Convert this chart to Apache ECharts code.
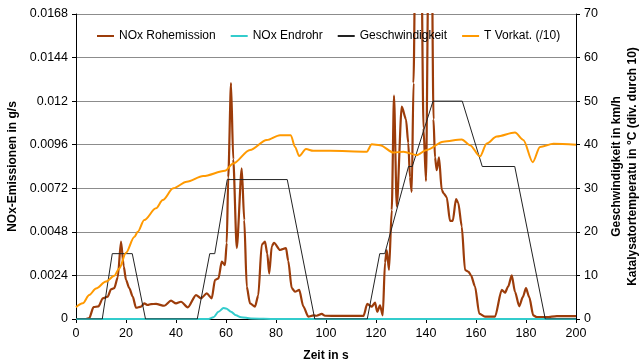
<!DOCTYPE html>
<html>
<head>
<meta charset="utf-8">
<script src="https://cdn.jsdelivr.net/npm/echarts@6/dist/echarts.min.js"></script>
<style>
  html, body { margin: 0; padding: 0; background: #fff; }
  #chart { width: 642px; height: 363px; }
</style>
</head>
<body>
<div id="chart"></div>
<script>
// Time axis (s)
const timeTicks = [0, 20, 40, 60, 80, 100, 120, 140, 160, 180, 200];
// Left axis tick labels (g/s)
const leftTicks = ['0', '0.0024', '0.0048', '0.0072', '0.0096', '0.012', '0.0144', '0.0168'];
// Right axis tick labels (km/h, °C/10)
const rightTicks = ['0', '10', '20', '30', '40', '50', '60', '70'];

// NOx Rohemission (g/s)
const rohTime = [0, 4, 5.3, 7, 9, 10.7, 12.7, 14, 15.3, 16.7, 18, 19.1, 20, 21.3, 22.7, 24, 26, 27.3, 28.7, 30, 32, 35.3, 38, 40, 42, 44.7, 48, 50, 52.3, 54.3, 55.6, 57, 58.3, 59.6, 60.3, 60.9, 62, 62.9, 64.3, 66.3, 67.3, 68.3, 69.6, 71.6, 72.9, 74.3, 75.6, 76.5, 77.3, 78.3, 79.2, 81.6, 84, 84.9, 86.3, 87.6, 89.3, 90.9, 92.9, 95, 96.3, 98.3, 99.6, 105, 115, 116.5, 118.3, 119.6, 120.5, 121.6, 122.7, 123.6, 124.3, 125.2, 126.3, 127.2, 128.3, 130.3, 132, 132.9, 133.6, 134.3, 135, 136, 137, 138, 139, 140, 141, 142, 143, 143.6, 144.3, 145.2, 146.3, 147.2, 148.3, 149.6, 150.7, 152, 152.9, 154.3, 155.6, 157, 158, 159.6, 161.3, 163.6, 167.6, 170.3, 171.6, 172.9, 174.3, 175.6, 177.3, 178.7, 180, 181.3, 182.9, 184.3, 188.3, 192.3, 200];
const rohValues = [0, 0, 0.00005, 0.00065, 0.0007, 0.00114, 0.00123, 0.00164, 0.0017, 0.0023, 0.00426, 0.0029, 0.00215, 0.0017, 0.00123, 0.00062, 0.00068, 0.00086, 0.00077, 0.00082, 0.00083, 0.00073, 0.00101, 0.00086, 0.00095, 0.00064, 0.00132, 0.00114, 0.00141, 0.00114, 0.00215, 0.00224, 0.00316, 0.00297, 0.0042, 0.0078, 0.0130, 0.0088, 0.0039, 0.0083, 0.00545, 0.00178, 0.00086, 0.00068, 0.0013, 0.0041, 0.00426, 0.0036, 0.0025, 0.0040, 0.0042, 0.0038, 0.0039, 0.0032, 0.0017, 0.0015, 0.0016, 0.0007, 0.00013, 0.0002, 0.00018, 0.00028, 0.00018, 0.00017, 0.00017, 0.00083, 0.00068, 0.0009, 0.0004, 0.00075, 0.0002, 0.0031, 0.0038, 0.0027, 0.006, 0.0123, 0.0062, 0.0117, 0.0110, 0.0097, 0.0078, 0.0070, 0.0130, 0.0240, 0.0260, 0.0220, 0.0105, 0.0076, 0.0200, 0.0260, 0.0110, 0.0089, 0.0082, 0.0089, 0.0071, 0.0069, 0.0067, 0.0054, 0.0054, 0.0066, 0.0064, 0.0051, 0.0027, 0.0026, 0.0024, 0.0018, 0.0003, 0.00013, 0.00013, 0.0016, 0.00145, 0.0018, 0.0024, 0.0015, 0.0007, 0.0012, 0.0017, 0.0012, 0.0002, 0.0001, 0.0001, 0.00016, 0.00016];

// NOx Endrohr (g/s)
const endTime = [0, 53, 55, 57, 59, 60, 62, 64, 66, 70, 80, 200];
const endValues = [0, 0, 0.0001, 0.0004, 0.0006, 0.00058, 0.0004, 0.0002, 0.0001, 0.00003, 0, 0];

// Geschwindigkeit (km/h)
const speedTime = [0, 10.5, 14.5, 22.5, 27.8, 48.5, 53.5, 55.5, 60.5, 84.5, 95.5, 116.5, 121.5, 123.5, 133, 134.5, 142.8, 154.5, 162.5, 175.5, 187.7, 200];
const speedValues = [0, 0, 15, 15, 0, 0, 15, 15, 32, 32, 0, 0, 15, 15, 35, 35, 50, 50, 35, 35, 0, 0];

// T Vorkat. (°C / 10)
const tempTime = [0, 2.7, 5.3, 8, 12, 15.3, 17.3, 20, 23.3, 24.7, 27.3, 32, 34.7, 38.9, 44.3, 50.9, 59.6, 62.9, 69.6, 76.3, 81.6, 85.9, 87.6, 89.3, 92, 94.9, 101.6, 116.3, 118.3, 121.6, 127, 131, 136.3, 140.3, 146.9, 154.3, 157.6, 161.6, 164.3, 168.3, 175.6, 178.9, 182.7, 185.6, 191, 200];
const tempValues = [2.7, 3.6, 5.5, 7.0, 8.6, 9.9, 11.6, 15.2, 18.8, 20, 22.7, 25.4, 27.3, 30, 31.5, 32.8, 34, 35.7, 38.8, 41.1, 42.2, 42.2, 39.5, 37.4, 39, 38.6, 38.6, 38.4, 40.1, 39.9, 38.2, 38.4, 37.6, 38.8, 40.7, 41.2, 39.9, 37.3, 40.3, 41.9, 42.8, 41.1, 36, 39.5, 40.2, 40];

const zip = (xs, ys) => xs.map((x, i) => [x, ys[i]]);

const FONT = 'Liberation Sans';
const chart = echarts.init(document.getElementById('chart'), null, { renderer: 'canvas' });

chart.setOption({
  animation: false,
  backgroundColor: '#ffffff',
  textStyle: { fontFamily: FONT, color: '#000' },
  grid: { left: 76, right: 66, top: 14, bottom: 44, containLabel: false, outerBoundsMode: 'none' },
  legend: {
    left: 92,
    top: 25,
    icon: 'rect',
    itemWidth: 17,
    itemHeight: 2,
    itemGap: 15,
    textStyle: { fontFamily: FONT, fontSize: 12, color: '#000' },
    data: ['NOx Rohemission', 'NOx Endrohr', 'Geschwindigkeit', 'T Vorkat. (/10)']
  },
  xAxis: {
    type: 'value',
    min: 0,
    max: 200,
    interval: 20,
    name: 'Zeit in s',
    nameLocation: 'middle',
    nameGap: 31,
    nameTextStyle: { fontFamily: FONT, fontSize: 12, fontWeight: 'bold', color: '#000' },
    axisLine: { onZero: false, lineStyle: { color: '#000', width: 1 } },
    axisTick: { show: true, length: 4, lineStyle: { color: '#000' } },
    axisLabel: {
      margin: 8, fontSize: 12.5, color: '#000', fontFamily: FONT,
      formatter: v => String(timeTicks[timeTicks.indexOf(v)])
    },
    splitLine: { show: false }
  },
  yAxis: [
    {
      type: 'value',
      position: 'left',
      min: 0,
      max: 0.0168,
      interval: 0.0024,
      name: 'NOx-Emissionen in g/s',
      nameLocation: 'middle',
      nameGap: 51,
      nameRotate: 90,
      nameTextStyle: { fontFamily: FONT, fontSize: 12, fontWeight: 'bold', color: '#000' },
      axisLine: { show: true, lineStyle: { color: '#000', width: 1 } },
      axisTick: { show: true, length: 4, lineStyle: { color: '#000' } },
      axisLabel: {
        margin: 8, fontSize: 12.5, color: '#000', fontFamily: FONT,
        formatter: v => leftTicks[Math.round(v / 0.0024)]
      },
      splitLine: { show: true, lineStyle: { color: '#8c8c8c', width: 1 } }
    },
    {
      type: 'value',
      position: 'right',
      min: 0,
      max: 70,
      interval: 10,
      name: 'Geschwindigkeit in km/h\nKatalysatortemperatu in °C (div. durch 10)',
      nameLocation: 'middle',
      nameGap: 23,
      nameRotate: 90,
      nameTextStyle: { fontFamily: FONT, fontSize: 12, fontWeight: 'bold', color: '#000', lineHeight: 16 },
      axisLine: { show: true, lineStyle: { color: '#000', width: 1 } },
      axisTick: { show: true, length: 4, lineStyle: { color: '#000' } },
      axisLabel: {
        margin: 8, fontSize: 12.5, color: '#000', fontFamily: FONT,
        formatter: v => rightTicks[Math.round(v / 10)]
      },
      splitLine: { show: false }
    }
  ],
  series: [
    {
      name: 'NOx Rohemission',
      type: 'line',
      yAxisIndex: 0,
      data: zip(rohTime, rohValues),
      symbol: 'none',
      smooth: 0.25,
      smoothMonotone: 'x',
      clip: true,
      color: '#9C3C0A',
      lineStyle: { color: '#9C3C0A', width: 2.2 }
    },
    {
      name: 'NOx Endrohr',
      type: 'line',
      yAxisIndex: 0,
      data: zip(endTime, endValues),
      symbol: 'none',
      smooth: 0.3,
      smoothMonotone: 'x',
      clip: true,
      color: '#33CCCC',
      lineStyle: { color: '#33CCCC', width: 2 }
    },
    {
      name: 'Geschwindigkeit',
      type: 'line',
      yAxisIndex: 1,
      data: zip(speedTime, speedValues),
      symbol: 'none',
      clip: true,
      color: '#222222',
      lineStyle: { color: '#222222', width: 1 }
    },
    {
      name: 'T Vorkat. (/10)',
      type: 'line',
      yAxisIndex: 1,
      data: zip(tempTime, tempValues),
      symbol: 'none',
      smooth: 0.3,
      smoothMonotone: 'x',
      clip: true,
      color: '#FF9900',
      lineStyle: { color: '#FF9900', width: 2 }
    }
  ]
});
</script>
</body>
</html>
